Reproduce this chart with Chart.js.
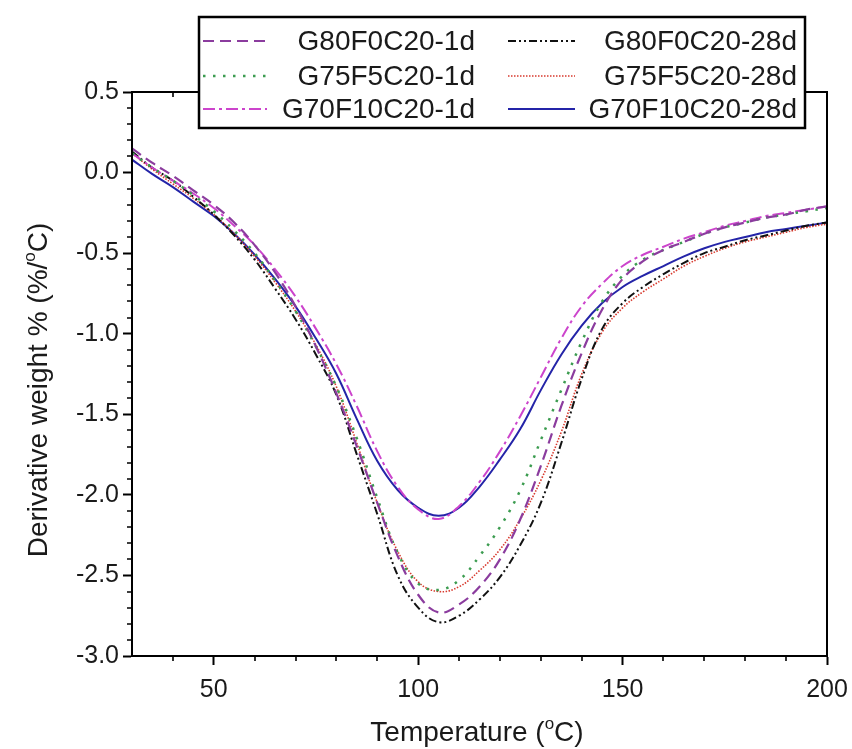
<!DOCTYPE html>
<html>
<head>
<meta charset="utf-8">
<script src="https://cdn.jsdelivr.net/npm/chart.js@4.4.1/dist/chart.umd.min.js"></script>
<style>
  html, body { margin: 0; background: #fff; }
  #wrap { width: 852px; height: 749px; }
</style>
</head>
<body>
<div id="wrap"><canvas id="c"></canvas></div>
<script>
/* DTG curves: derivative weight vs temperature */
const TEMP = [30, 35, 40, 45, 50, 55, 60, 65, 70, 75, 80, 85, 90, 95, 100, 105, 110, 115, 120,
  125, 130, 135, 140, 145, 150, 155, 160, 165, 170, 175, 180, 185, 190, 195, 200];

const G80_1D = [0.15, 0.06, -0.02, -0.11, -0.20, -0.31, -0.45, -0.62, -0.83, -1.08, -1.37, -1.70, -2.05, -2.38, -2.62, -2.73,
  -2.68, -2.57, -2.40, -2.15, -1.82, -1.45, -1.12, -0.85, -0.66, -0.55, -0.48, -0.43, -0.38, -0.34, -0.31, -0.28, -0.26, -0.23, -0.21];
const G75_1D = [0.12, 0.03, -0.05, -0.14, -0.24, -0.36, -0.50, -0.67, -0.86, -1.08, -1.33, -1.65, -2.02, -2.36, -2.55, -2.59,
  -2.53, -2.38, -2.20, -1.97, -1.66, -1.35, -1.05, -0.80, -0.64, -0.54, -0.48, -0.43, -0.38, -0.34, -0.31, -0.28, -0.26, -0.24, -0.22];
const G70_1D = [0.12, 0.03, -0.05, -0.13, -0.22, -0.33, -0.45, -0.60, -0.77, -0.97, -1.19, -1.45, -1.73, -1.95, -2.09, -2.15,
  -2.07, -1.92, -1.73, -1.51, -1.27, -1.03, -0.83, -0.69, -0.58, -0.51, -0.46, -0.41, -0.37, -0.33, -0.30, -0.27, -0.25, -0.23, -0.21];
const G80_28D = [0.13, 0.03, -0.05, -0.15, -0.26, -0.39, -0.54, -0.72, -0.91, -1.13, -1.38, -1.75, -2.12, -2.50, -2.70, -2.79,
  -2.75, -2.65, -2.51, -2.31, -2.05, -1.68, -1.28, -0.97, -0.81, -0.71, -0.63, -0.56, -0.50, -0.46, -0.42, -0.39, -0.36, -0.33, -0.31];
const G75_28D = [0.12, 0.02, -0.07, -0.16, -0.26, -0.38, -0.52, -0.68, -0.86, -1.07, -1.33, -1.68, -2.05, -2.35, -2.54, -2.60,
  -2.57, -2.47, -2.34, -2.15, -1.91, -1.61, -1.25, -0.99, -0.84, -0.74, -0.66, -0.58, -0.52, -0.47, -0.43, -0.40, -0.37, -0.34, -0.32];
const G70_28D = [0.08, -0.01, -0.09, -0.18, -0.27, -0.38, -0.51, -0.66, -0.83, -1.03, -1.25, -1.53, -1.79, -1.97, -2.08, -2.13,
  -2.08, -1.95, -1.78, -1.59, -1.35, -1.13, -0.95, -0.81, -0.71, -0.64, -0.58, -0.52, -0.47, -0.43, -0.40, -0.37, -0.35, -0.33, -0.31];

const LABELS = ['G80F0C20-1d', 'G75F5C20-1d', 'G70F10C20-1d', 'G80F0C20-28d', 'G75F5C20-28d', 'G70F10C20-28d'];
const X_TICKS = [50, 100, 150, 200];
const Y_TICKS = [-3.0, -2.5, -2.0, -1.5, -1.0, -0.5, 0.0, 0.5];

const FONT = '"Liberation Sans", Arial, sans-serif';
const INK = '#1a1a1a';

const STYLES = [
  { color: '#8b3c9e', dash: [11, 6], width: 2.2 },
  { color: '#3c9c50', dash: [2.5, 7.5], width: 2.5 },
  { color: '#cc44cc', dash: [12, 4, 3, 4], width: 2 },
  { color: '#111111', dash: [8, 3, 2, 3, 2, 3], width: 2 },
  { color: '#d83a2e', dash: [1.5, 1.5], width: 1.6 },
  { color: '#2424a8', dash: [], width: 2 },
];
const SERIES = [G80_1D, G75_1D, G70_1D, G80_28D, G75_28D, G70_28D];

const pts = ys => TEMP.map((t, i) => ({ x: t, y: ys[i] }));

// minor ticks + frame (top / right)
const frame = {
  id: 'frame',
  afterDraw(chart) {
    const { ctx, chartArea: a, scales: { x, y } } = chart;
    ctx.save();
    ctx.strokeStyle = '#000';
    ctx.lineWidth = 2;
    ctx.strokeRect(a.left, a.top, a.right - a.left, a.bottom - a.top);
    ctx.lineWidth = 1.6;
    ctx.beginPath();
    for (let v = 40; v < 200; v += 10) {
      const px = Math.round(x.getPixelForValue(v));
      const major = v % 50 === 0;
      if (!major) { ctx.moveTo(px, a.bottom); ctx.lineTo(px, a.bottom + 5); }
      ctx.moveTo(px, a.top); ctx.lineTo(px, a.top + (major ? 9 : 5));
    }
    for (let k = -29; k < 5; k++) {
      if (k % 5 === 0) continue;
      const py = Math.round(y.getPixelForValue(k / 10));
      ctx.moveTo(a.left, py); ctx.lineTo(a.left - 5, py);
    }
    ctx.stroke();

    // axis titles with superscript "o"
    drawTitle(ctx, [['Temperature ('], ['o', true], ['C)']], 477, 731, 0, 28);
    drawTitle(ctx, [['Derivative weight % (%/'], ['o', true], ['C)']], 37, 390, -Math.PI / 2, 28);
    ctx.restore();
  }
};

function drawTitle(ctx, parts, cx, cy, rot, size) {
  ctx.save();
  ctx.translate(cx, cy);
  ctx.rotate(rot);
  const big = size + 'px ' + FONT, small = Math.round(size * 0.62) + 'px ' + FONT;
  let w = 0;
  parts.forEach(([t, sup]) => { ctx.font = sup ? small : big; w += ctx.measureText(t).width; });
  let x = -w / 2;
  ctx.fillStyle = INK;
  ctx.textAlign = 'left';
  ctx.textBaseline = 'alphabetic';
  parts.forEach(([t, sup]) => {
    ctx.font = sup ? small : big;
    ctx.fillText(t, x, sup ? size * 0.35 - size * 0.42 : size * 0.35);
    x += ctx.measureText(t).width;
  });
  ctx.restore();
}

// boxed legend, 2 columns x 3 rows, drawn over the top of the plot
const legendBox = {
  id: 'legendBox',
  afterDraw(chart) {
    const ctx = chart.ctx;
    ctx.save();
    ctx.fillStyle = '#fff';
    ctx.fillRect(199, 17, 606, 111);
    ctx.strokeStyle = '#000';
    ctx.lineWidth = 2.5;
    ctx.strokeRect(199, 17, 606, 111);
    const rows = [41, 76, 109];
    const cols = [{ x0: 203, x1: 267, tx: 475 }, { x0: 508, x1: 575, tx: 797 }];
    chart.data.datasets.forEach((ds, i) => {
      const c = cols[Math.floor(i / 3)], yy = rows[i % 3];
      ctx.strokeStyle = ds.borderColor;
      ctx.lineWidth = ds.borderWidth;
      ctx.setLineDash(ds.borderDash);
      ctx.beginPath(); ctx.moveTo(c.x0, yy); ctx.lineTo(c.x1, yy); ctx.stroke();
      ctx.setLineDash([]);
      ctx.fillStyle = INK;
      ctx.font = '28px ' + FONT;
      ctx.textAlign = 'right';
      ctx.textBaseline = 'middle';
      ctx.fillText(ds.label, c.tx, yy + 1);
    });
    ctx.restore();
  }
};

new Chart('c', {
  type: 'line',
  data: {
    datasets: SERIES.map((s, i) => ({
      label: LABELS[i],
      data: pts(s),
      borderColor: STYLES[i].color,
      borderDash: STYLES[i].dash,
      borderWidth: STYLES[i].width,
      pointRadius: 0,
      tension: 0.4,
      fill: false
    }))
  },
  options: {
    responsive: true, maintainAspectRatio: false, animation: false, devicePixelRatio: 1,
    layout: { padding: { top: 92, right: 25, left: 0, bottom: 0 } },
    plugins: { legend: { display: false }, tooltip: { enabled: false } },
    scales: {
      x: {
        type: 'linear', min: 30, max: 200,
        afterBuildTicks: s => { s.ticks = X_TICKS.map(v => ({ value: v })); },
        afterFit: s => { s.height = 93; s.paddingLeft = 0; s.paddingRight = 0; },
        border: { color: '#000', width: 2 },
        grid: { drawOnChartArea: false, tickLength: 9, tickColor: '#000', tickWidth: 2 },
        ticks: { color: INK, font: { family: FONT, size: 25 }, padding: 10, maxRotation: 0 }
      },
      y: {
        min: -3.0, max: 0.5,
        afterBuildTicks: s => { s.ticks = Y_TICKS.map(v => ({ value: v })); },
        afterFit: s => { s.width = 132; s.paddingTop = 0; s.paddingBottom = 0; },
        border: { color: '#000', width: 2 },
        grid: { drawOnChartArea: false, tickLength: 9, tickColor: '#000', tickWidth: 2 },
        ticks: { color: INK, font: { family: FONT, size: 25 }, padding: 4, callback: v => v.toFixed(1) }
      }
    }
  },
  plugins: [frame, legendBox]
});
</script>
</body>
</html>
